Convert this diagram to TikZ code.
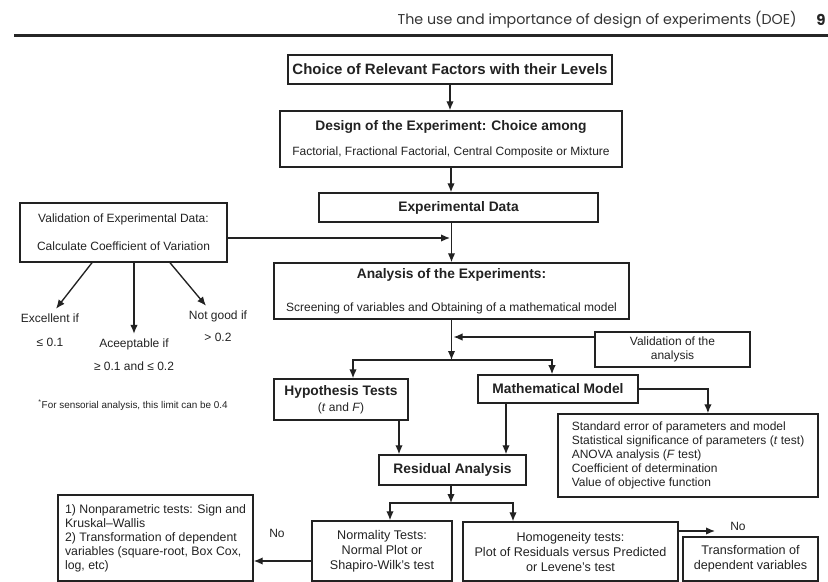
\documentclass[tikz,border=0pt]{standalone}
\usepackage{fontspec}
\setmainfont{Liberation Sans}
\newfontfamily\headfont{Poppins}
\usepackage{xcolor}
\usetikzlibrary{arrows.meta}
\definecolor{ink}{HTML}{222222}
\newcommand\boxhead{\fontsize{9.2}{11}\selectfont\bfseries}

\begin{document}
\begin{tikzpicture}[x=0.6667pt, y=-0.6667pt,
  box/.style={draw=ink, line width=1pt, inner sep=0pt, text=ink, align=center},
  arr/.style={draw=ink, line width=0.9pt, -{Latex[length=6pt,width=5pt]}},
  lbl/.style={text=ink, inner sep=3pt, align=center}]
  \useasboundingbox (0,0) rectangle (828,582);
  % running head
  \node[anchor=east, inner sep=0pt, text=black!80, font=\headfont\fontsize{9.5}{12}\selectfont] (head) at (797,20) {The use and importance of design of experiments (DOE)};
  \node[inner sep=0pt, text=black!85, font=\headfont\bfseries\fontsize{10}{12}\selectfont] (page) at (821,20) {9};
  \draw[black!85, line width=1.6pt] (14,35.5) -- (828,35.5);
  % main column
  \node[box, minimum width=216pt, minimum height=19.3pt, font=\fontsize{10}{12}\selectfont\bfseries] (factors) at (450,69.5) {Choice of Relevant Factors with their Levels};
  \node[box, minimum width=228pt, minimum height=37.3pt, font=\fontsize{8}{16.7}\selectfont] (design) at (451,139)
    {{\boxhead Design of the Experiment: Choice among}\\Factorial, Fractional Factorial, Central Composite or Mixture};
  \node[box, minimum width=186pt, minimum height=19.3pt, font=\boxhead] (data) at (458.5,207.5) {Experimental Data};
  \node[box, minimum width=236.7pt, minimum height=37.3pt, font=\fontsize{8}{22}\selectfont] (analysis) at (451.5,291)
    {{\boxhead Analysis of the Experiments:}\\Screening of variables and Obtaining of a mathematical model};
  % validation of the data
  \node[box, minimum width=138pt, minimum height=39.3pt, font=\fontsize{8}{18.7}\selectfont] (valdata) at (123.5,232.5)
    {Validation of Experimental Data:\\Calculate Coefficient of Variation};
  \node[lbl, font=\fontsize{8}{16}\selectfont] (exc) at (50,330) {Excellent if\\≤ 0.1};
  \node[lbl, font=\fontsize{8}{15.3}\selectfont] (acc) at (134,354.5) {Aceeptable if\\≥ 0.1 and ≤ 0.2};
  \node[lbl, font=\fontsize{8}{14.7}\selectfont] (notgood) at (218,326) {Not good if\\> 0.2};
  \node[anchor=west, inner sep=0pt, text=ink, font=\fontsize{6.6}{8}\selectfont] (note) at (38,405)
    {\textsuperscript{*}For sensorial analysis, this limit can be 0.4};
  % analysis branches
  \node[box, minimum width=103.3pt, minimum height=23.3pt, font=\fontsize{8}{9}\selectfont] (valan) at (672.5,349.5) {Validation of the\\analysis};
  \node[box, minimum width=89.3pt, minimum height=27.3pt, font=\fontsize{8}{10.7}\selectfont] (hyp) at (341,399.5)
    {{\boxhead Hypothesis Tests}\\(\textit{t} and \textit{F})};
  \node[box, minimum width=106.7pt, minimum height=18.7pt, font=\boxhead] (model) at (558,389) {Mathematical Model};
  \node[box, minimum width=173.3pt, minimum height=55.3pt, align=left, font=\fontsize{8}{9.3}\selectfont] (stats) at (688,455.5)
    {Standard error of parameters and model\\Statistical significance of parameters (\textit{t} test)\\ANOVA analysis (\textit{F} test)\\Coefficient of determination\\Value of objective function};
  \node[box, minimum width=98pt, minimum height=20pt, font=\boxhead] (resid) at (452.5,470) {Residual Analysis};
  % residual tests
  \node[box, minimum width=93.3pt, minimum height=40pt, font=\fontsize{8.4}{10}\selectfont] (normal) at (382,551)
    {Normality Tests:\\Normal Plot or\\Shapiro-Wilk's test};
  \node[box, minimum width=143.3pt, minimum height=39.3pt, font=\fontsize{8.4}{10}\selectfont] (homog) at (570.5,551.5)
    {Homogeneity tests:\\Plot of Residuals versus Predicted\\or Levene's test};
  \node[box, minimum width=90pt, minimum height=29.3pt, font=\fontsize{8.4}{10}\selectfont] (transf) at (750.5,559)
    {Transformation of\\dependent variables};
  \node[box, minimum width=130pt, minimum height=57.3pt, align=left, font=\fontsize{8.2}{9.3}\selectfont] (nonpar) at (155.5,538)
    {1) Nonparametric tests: Sign and\\Kruskal–Wallis\\2) Transformation of dependent\\variables (square-root, Box Cox,\\log, etc)};
  \node[lbl, font=\fontsize{8}{9}\selectfont] (no1) at (277,533) {No};
  \node[lbl, font=\fontsize{8}{9}\selectfont] (no2) at (738,526) {No};
  % connectors
  \coordinate (cvin) at (450,238);
  \coordinate (anin) at (453.5,337);
  \coordinate (split) at (451.5,360);
  \coordinate (split2) at (451,503);
  \coordinate (noend) at (715,531);
  \draw[arr] (factors.south) -- (factors.south |- design.north);
  \draw[arr] (design.south) -- (design.south |- data.north);
  \draw[arr] (data.south -| analysis.north) -- (analysis.north);
  \draw[arr] (valdata.east |- cvin) -- (cvin);
  \draw[arr] (valdata.south -| 92,0) -- ([xshift=4pt]exc.north);
  \draw[arr] (valdata.south -| acc.north) -- (acc.north);
  \draw[arr] (valdata.south -| 170,0) -- ([xshift=-8pt]notgood.north);
  \draw[arr] (analysis.south) -- (split);
  \draw[arr] (valan.west |- anin) -- (anin);
  \draw[arr] (split) -| ([xshift=8pt]hyp.north);
  \draw[arr] (split) -| ([xshift=-4pt]model.north);
  \draw[arr] (model.east) -| ([xshift=13.3pt]stats.north);
  \draw[arr] (hyp.south -| 399,0) -- (resid.north -| 399,0);
  \draw[arr] (model.south -| 506,0) -- (resid.north -| 506,0);
  \draw[arr] (resid.south -| split2) -- (split2);
  \draw[arr] (split2) -| (normal.north -| 390,0);
  \draw[arr] (split2) -| (homog.north -| 513,0);
  \draw[arr] (normal.west |- 0,561) -- (nonpar.east |- 0,561);
  \draw[arr] (homog.east |- noend) -- (noend);
\end{tikzpicture}
\end{document}
